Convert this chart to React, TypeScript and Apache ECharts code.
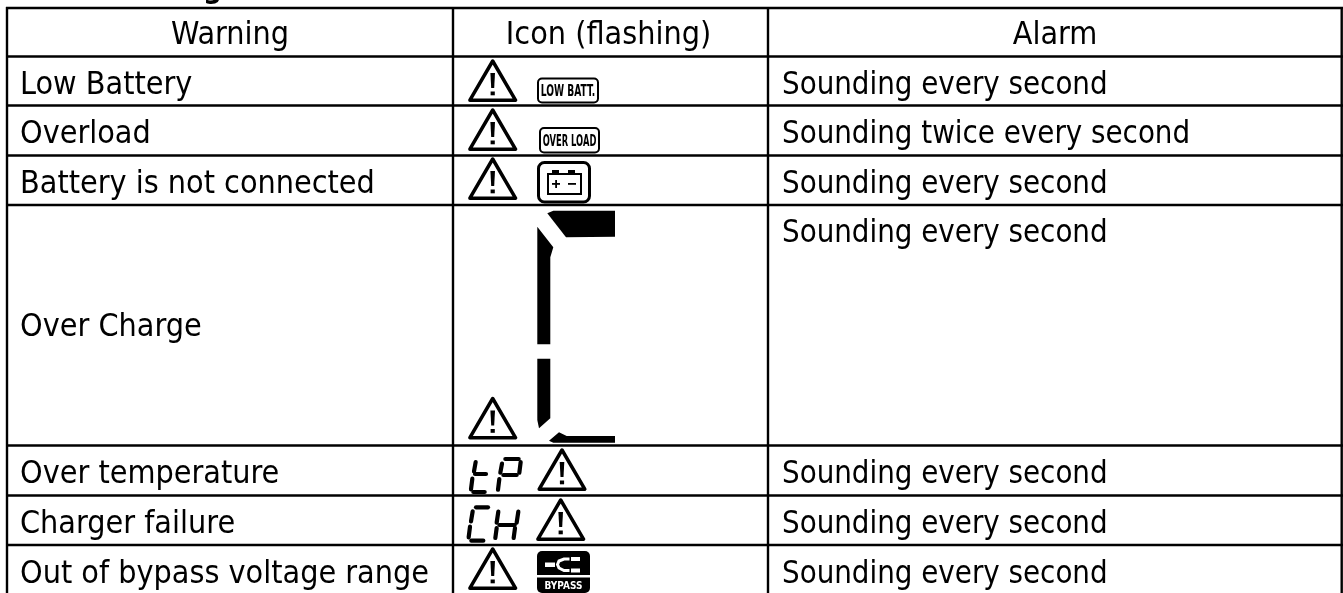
import React, { useEffect, useRef } from "react";
import * as echarts from "echarts";

const headers = ["Warning", "Icon (flashing)", "Alarm"];
const warnings = ["Low Battery", "Overload", "Battery is not connected", "Over Charge", "Over temperature", "Charger failure", "Out of bypass voltage range"];
const alarms = ["Sounding every second", "Sounding twice every second", "Sounding every second", "Sounding every second", "Sounding every second", "Sounding every second", "Sounding every second"];
const rowLines = [8, 56.5, 105.5, 155.5, 205, 445.5, 495.5, 545];
const colLines = [7, 453, 768, 1341.7];
const warningY = [82.5, 131.5, 181.5, 325, 472, 521.5, 571.7];
const alarmY = [82.5, 131.5, 181.5, 231, 472, 521.5, 571.7];
// [centre x, bottom y] of each warning triangle
const triangles = [[492.7, 102], [492.7, 151], [492.7, 200], [492.7, 439.5], [562, 491], [560.7, 541], [492.7, 590]];
const FONT = "'DejaVu Sans Condensed', 'DejaVu Sans', sans-serif";
const FS = 32;

const tri = (cx: number, bottom: number) => ({
  type: "group",
  x: cx,
  y: bottom,
  children: [
    { type: "polygon", shape: { points: [[0, -41], [22.8, -1.8], [-22.8, -1.8]] }, style: { fill: "#fff", stroke: "#000", lineWidth: 3.5, lineJoin: "round" } },
    { type: "polygon", shape: { points: [[-2.3, -29], [2.3, -29], [1.5, -14], [-1.5, -14]] }, style: { fill: "#000" } },
    { type: "rect", shape: { x: -2.1, y: -10.5, width: 4.2, height: 3.8 }, style: { fill: "#000" } },
  ],
});

const poly = (pts: number[][]) => ({ type: "polygon", shape: { points: pts }, style: { fill: "#000" } });
// segment in zoomed-crop coordinates
const seg = (pts: number[][], ox = 460, oy = 448) => ({
  type: "polyline",
  shape: { points: pts.map(([x, y]) => [ox + x / 3, oy + y / 3]) },
  style: { stroke: "#000", lineWidth: 4.2, lineCap: "round", fill: "none" },
});
const box = (x: number, y: number, w: number, h: number, r: number, lw: number, fill = "#fff") => ({
  type: "rect",
  shape: { x, y, width: w, height: h, r },
  style: { fill, stroke: "#000", lineWidth: lw },
});
const label = (text: string, cx: number, cy: number, size: number, sx: number, fill = "#000") => ({
  type: "text",
  x: cx,
  y: cy,
  scaleX: sx,
  style: { text, font: `bold ${size}px 'DejaVu Sans Condensed', sans-serif`, fill, align: "center", verticalAlign: "middle" },
});

function buildGraphic() {
  const el: any[] = [];
  el.push({ type: "rect", shape: { x: 0, y: 0, width: 1343, height: 593 }, style: { fill: "#fff" } });
  el.push({ type: "text", x: 7, y: -28, style: { text: "3-5-3 Warning Indicator", font: `bold 30px ${FONT}`, fill: "#000" } });
  rowLines.forEach((y) => el.push({ type: "line", shape: { x1: 6, y1: y, x2: 1343, y2: y }, style: { stroke: "#000", lineWidth: 2.4 } }));
  colLines.forEach((x) => el.push({ type: "line", shape: { x1: x, y1: 7, x2: x, y2: 593 }, style: { stroke: "#000", lineWidth: 2.4 } }));
  const hx = [230, 608.5, 1055];
  headers.forEach((h, i) => el.push({ type: "text", x: hx[i], y: 33, style: { text: h, font: `${FS}px ${FONT}`, fill: "#000", align: "center", verticalAlign: "middle" } }));
  warnings.forEach((w, i) => el.push({ type: "text", x: 20, y: warningY[i], style: { text: w, font: `${FS}px ${FONT}`, fill: "#000", verticalAlign: "middle" } }));
  alarms.forEach((w, i) => el.push({ type: "text", x: 782, y: alarmY[i], scaleX: 0.965, style: { text: w, font: `${FS}px ${FONT}`, fill: "#000", verticalAlign: "middle" } }));

  triangles.forEach(([x, y]) => el.push(tri(x, y)));

  // LOW BATT.
  el.push(box(538, 78.5, 60, 24, 4, 2));
  el.push(label("LOW BATT.", 568, 91, 15, 0.68));
  // OVER LOAD
  el.push(box(540, 128, 59, 24.5, 4, 2));
  el.push(label("OVER LOAD", 569.5, 140.5, 15, 0.62));
  // Battery
  el.push(box(538.5, 162.5, 51, 39.5, 6, 3));
  el.push({ type: "rect", shape: { x: 548, y: 174, width: 33, height: 20 }, style: { fill: "#fff", stroke: "#000", lineWidth: 2 } });
  el.push({ type: "rect", shape: { x: 552, y: 170, width: 7, height: 4 }, style: { fill: "#000" } });
  el.push({ type: "rect", shape: { x: 568, y: 170, width: 7, height: 4 }, style: { fill: "#000" } });
  el.push({ type: "rect", shape: { x: 552, y: 183, width: 8, height: 1.8 }, style: { fill: "#000" } });
  el.push({ type: "rect", shape: { x: 555.2, y: 180, width: 1.8, height: 8 }, style: { fill: "#000" } });
  el.push({ type: "rect", shape: { x: 568, y: 183, width: 8, height: 1.8 }, style: { fill: "#000" } });

  // Over Charge segments
  el.push(poly([[547.3, 213.3], [553.3, 210.7], [615, 210.7], [615, 236.7], [566, 237.3]]));
  el.push(poly([[537.3, 226.7], [553.3, 247.3], [550.3, 257.3], [550.3, 344.3], [537.3, 344.3]]));
  el.push(poly([[537.3, 358.7], [550.3, 358.7], [550.3, 418.3], [539, 428.3], [537.3, 420]]));
  el.push(poly([[549, 440.7], [559, 432.3], [566.7, 436], [615, 436], [615, 442.7], [553.3, 442.7]]));

  // tP
  [
    [[47, 42], [42, 70]], [[45, 78], [78, 78]], [[37, 92], [33, 124]], [[40, 132], [74, 132]],
    [[126, 47], [121, 74]], [[136, 33], [176, 33]], [[182, 42], [178, 74]], [[130, 81], [170, 81]], [[118, 93], [114, 125]],
    // CH
    [[48, 178], [84, 178]], [[38, 190], [33, 220]], [[30, 236], [26, 268]], [[34, 278], [70, 278]],
    [[115, 191], [110, 224]], [[175, 191], [170, 224]], [[118, 231], [164, 231]], [[110, 240], [106, 270]], [[165, 240], [161, 270]],
  ].forEach((p) => el.push(seg(p)));

  // BYPASS
  el.push({ type: "rect", shape: { x: 537, y: 551, width: 53, height: 42, r: 5 }, style: { fill: "#000" } });
  el.push({ type: "rect", shape: { x: 537, y: 575, width: 53, height: 2.6 }, style: { fill: "#fff" } });
  el.push(label("BYPASS", 563.5, 585, 10.5, 0.95, "#fff"));
  el.push({ type: "rect", shape: { x: 545, y: 562.5, width: 10, height: 4.5 }, style: { fill: "#fff" } });
  el.push({ type: "polyline", shape: { points: [[569.5, 559], [564, 559], [559, 561], [557.5, 564.5], [559, 568], [564, 570.5], [569.5, 570.5]] }, style: { stroke: "#fff", lineWidth: 3, fill: "none" } });
  el.push({ type: "rect", shape: { x: 571, y: 557, width: 9, height: 4 }, style: { fill: "#fff" } });
  el.push({ type: "rect", shape: { x: 571, y: 568.5, width: 9, height: 4 }, style: { fill: "#fff" } });
  return el;
}

export default function App() {
  const ref = useRef<HTMLDivElement>(null);
  useEffect(() => {
    const chart = echarts.init(ref.current!, null, { renderer: "svg" });
    chart.setOption({ animation: false, graphic: { elements: buildGraphic() } });
    return () => chart.dispose();
  }, []);
  return <div ref={ref} style={{ position: "fixed", left: 0, top: 0, width: 1343, height: 593 }} />;
}
